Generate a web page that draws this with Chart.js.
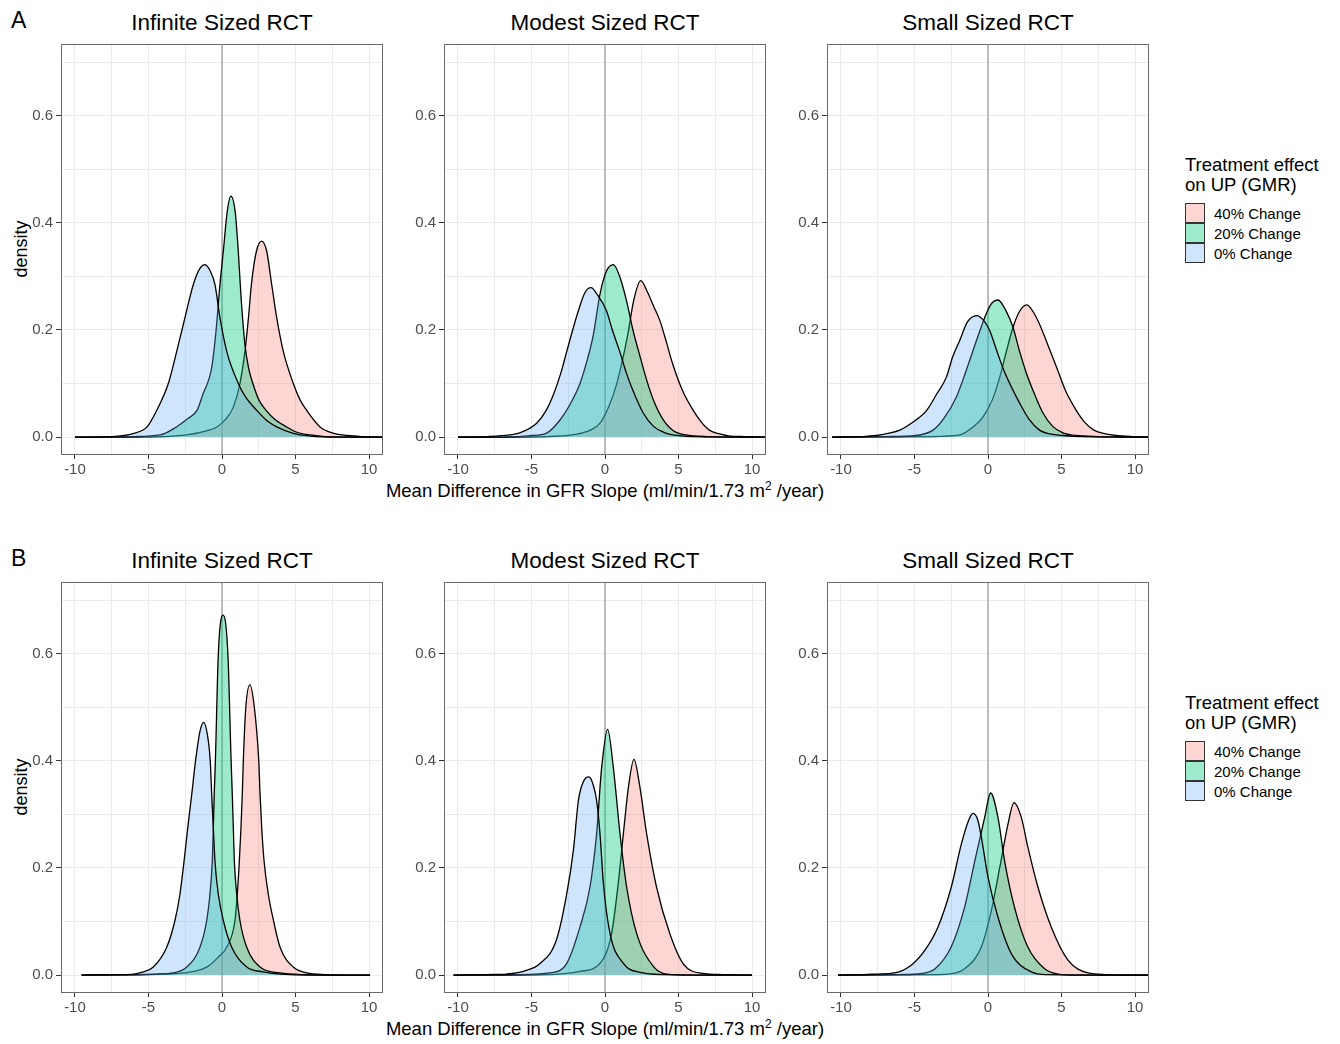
<!DOCTYPE html>
<html>
<head>
<meta charset="utf-8">
<script src="https://cdn.jsdelivr.net/npm/chart.js@4.4.0/dist/chart.umd.min.js"></script>
<style>
body { margin: 0; background: #fff; width: 1340px; height: 1044px; position: relative; overflow: hidden;
       font-family: "Liberation Sans", Arial, sans-serif; }
.t { position: absolute; white-space: nowrap; color: #000; }
canvas { position: absolute; }
.box { position: absolute; width: 18px; height: 18px; border: 1px solid #333; }
</style>
</head>
<body>
<script>
// labels
const panelTitles = ['Infinite Sized RCT', 'Modest Sized RCT', 'Small Sized RCT'];
const rowLabels = ['A', 'B'];
const groupLabels = ['40% Change', '20% Change', '0% Change'];
const legendTitle = ['Treatment effect', 'on UP (GMR)'];
const xTickLabels = [-10, -5, 0, 5, 10];
const yTickLabels = [0, 0.2, 0.4, 0.6];

// density curves, [x, density]
// row A
const aInf40 = [[-10,0],[-4,0.001],[-2.4,0.004],[-1,0.012],[-0.34,0.019],[0.3,0.035],[0.77,0.056],[1.22,0.1],[1.56,0.16],[1.8,0.223],[2.0,0.285],[2.34,0.347],[2.7,0.366],[3.04,0.347],[3.38,0.285],[3.72,0.223],[4.17,0.16],[4.85,0.1],[5.3,0.07],[5.76,0.05],[6.67,0.019],[7.6,0.007],[8.5,0.003],[9.5,0.001],[11,0]];
const aInf20 = [[-10,0],[-6,0.001],[-4.2,0.004],[-3.1,0.019],[-2.3,0.035],[-1.7,0.05],[-1.3,0.08],[-0.7,0.13],[-0.4,0.2],[-0.14,0.285],[0.1,0.35],[0.35,0.42],[0.6,0.45],[0.9,0.42],[1.1,0.35],[1.3,0.26],[1.55,0.175],[1.8,0.13],[2.1,0.1],[2.5,0.07],[3,0.05],[3.6,0.033],[4.4,0.019],[5,0.01],[6,0.004],[7,0.001],[11,0]];
const aInf0 = [[-10,0],[-7.5,0.001],[-6,0.007],[-5.1,0.019],[-4.44,0.05],[-3.65,0.1],[-3.08,0.16],[-2.52,0.223],[-1.95,0.285],[-1.5,0.315],[-1.15,0.322],[-0.8,0.31],[-0.48,0.285],[-0.14,0.223],[0.32,0.16],[1.11,0.1],[1.6,0.075],[2.36,0.05],[3,0.032],[3.72,0.019],[4.85,0.007],[6,0.002],[8,0],[11,0]];

const aMod40 = [[-10,0],[-4,0.001],[-2,0.005],[-1,0.013],[-0.34,0.026],[0.3,0.06],[0.8,0.1],[1.2,0.145],[1.56,0.193],[1.95,0.255],[2.43,0.292],[2.9,0.27],[3.3,0.245],[3.74,0.217],[4.2,0.175],[4.6,0.137],[5.3,0.085],[6.0,0.05],[6.5,0.03],[7.1,0.013],[7.8,0.006],[8.5,0.002],[9.5,0.001],[11,0]];
const aMod20 = [[-10,0],[-6,0.001],[-5,0.003],[-4,0.007],[-3.06,0.032],[-2.4,0.06],[-1.7,0.1],[-1.2,0.145],[-0.8,0.19],[-0.34,0.267],[0.1,0.31],[0.57,0.322],[1.0,0.3],[1.47,0.254],[1.9,0.2],[2.4,0.149],[2.85,0.105],[3.3,0.069],[3.9,0.035],[4.6,0.013],[5.5,0.004],[7,0.001],[11,0]];
const aMod0 = [[-10,0],[-8,0.001],[-6.5,0.004],[-5.8,0.008],[-4.65,0.026],[-4,0.05],[-3.5,0.08],[-3,0.12],[-2.6,0.16],[-2.2,0.2],[-1.81,0.236],[-1.36,0.27],[-0.95,0.279],[-0.5,0.265],[0.1,0.236],[0.5,0.2],[1.0,0.16],[1.45,0.12],[1.9,0.087],[2.6,0.045],[3.3,0.02],[4.0,0.009],[4.6,0.004],[6,0.001],[11,0]];

const aSmall40 = [[-10.6,0],[-4,0.001],[-1.93,0.004],[-1.2,0.015],[-0.34,0.038],[0.3,0.07],[0.8,0.112],[1.25,0.16],[1.7,0.205],[2.15,0.235],[2.63,0.247],[3.05,0.235],[3.5,0.211],[4.1,0.17],[4.67,0.13],[5.3,0.085],[6.0,0.05],[6.6,0.027],[7.2,0.013],[8,0.006],[8.7,0.003],[9.8,0.001],[11,0]];
const aSmall20 = [[-10.6,0],[-7,0.001],[-4.9,0.003],[-3.74,0.013],[-3,0.035],[-2.15,0.075],[-1.6,0.115],[-1.04,0.16],[-0.6,0.195],[-0.23,0.223],[0.2,0.248],[0.68,0.256],[1.2,0.237],[1.7,0.205],[2.15,0.16],[2.63,0.118],[3.2,0.078],[3.76,0.044],[4.4,0.02],[5.1,0.008],[6,0.003],[7.5,0.001],[11,0]];
const aSmall0 = [[-10.6,0],[-8.5,0.001],[-7.6,0.003],[-6.8,0.007],[-6,0.013],[-5,0.03],[-4.17,0.05],[-3.5,0.08],[-2.83,0.112],[-2.4,0.15],[-1.93,0.18],[-1.4,0.215],[-0.77,0.227],[-0.3,0.218],[0.1,0.2],[0.55,0.165],[1.0,0.13],[1.6,0.093],[2.16,0.063],[2.8,0.033],[3.5,0.013],[4.2,0.006],[5.1,0.003],[6.5,0.001],[11,0]];

// row B
const bInf40 = [[-9.55,0],[-5,0.001],[-2.6,0.004],[-1.04,0.015],[-0.2,0.035],[0.32,0.052],[0.88,0.102],[1.04,0.151],[1.18,0.213],[1.29,0.275],[1.38,0.337],[1.45,0.4],[1.62,0.5],[1.9,0.542],[2.2,0.5],[2.5,0.4],[2.59,0.337],[2.7,0.275],[2.86,0.213],[3.15,0.151],[3.5,0.102],[3.95,0.052],[4.85,0.015],[5.76,0.004],[7,0.001],[10.07,0]];
const bInf20 = [[-9.55,0],[-6,0.001],[-4.5,0.002],[-3.3,0.004],[-2.4,0.015],[-1.5,0.052],[-1.04,0.102],[-0.82,0.151],[-0.66,0.213],[-0.59,0.275],[-0.53,0.337],[-0.45,0.4],[-0.25,0.6],[0.07,0.672],[0.4,0.6],[0.62,0.4],[0.7,0.337],[0.77,0.275],[0.84,0.213],[1.0,0.151],[1.22,0.102],[1.68,0.052],[2.59,0.015],[3.95,0.004],[5.5,0.001],[10.07,0]];
const bInf0 = [[-9.55,0],[-7,0.001],[-6,0.002],[-5.35,0.006],[-4.67,0.015],[-3.76,0.052],[-3.2,0.102],[-2.86,0.151],[-2.58,0.213],[-2.33,0.275],[-2.06,0.337],[-1.8,0.4],[-1.5,0.455],[-1.25,0.472],[-1.0,0.45],[-0.8,0.4],[-0.7,0.337],[-0.59,0.275],[-0.48,0.213],[-0.25,0.151],[0.09,0.102],[0.66,0.052],[1.68,0.015],[2.8,0.006],[4,0.002],[6,0],[10.07,0]];

const bMod40 = [[-10.3,0],[-4,0.001],[-1.7,0.007],[-0.34,0.022],[0.45,0.078],[0.9,0.171],[1.25,0.264],[1.59,0.35],[1.97,0.403],[2.38,0.35],[2.83,0.264],[3.5,0.165],[4.4,0.078],[5.3,0.022],[6.7,0.003],[8,0.001],[10,0]];
const bMod20 = [[-10.3,0],[-6,0.001],[-3.5,0.005],[-2.6,0.022],[-1.7,0.09],[-1.02,0.165],[-0.57,0.264],[-0.23,0.387],[0.18,0.459],[0.57,0.387],[1.02,0.264],[1.47,0.165],[2.15,0.078],[3.3,0.016],[4.2,0.002],[6,0],[10,0]];
const bMod0 = [[-10.3,0],[-8,0.001],[-6.7,0.002],[-5.55,0.007],[-4.4,0.022],[-3.3,0.066],[-2.6,0.152],[-2.15,0.233],[-1.81,0.326],[-1.4,0.365],[-1.09,0.37],[-0.8,0.355],[-0.57,0.326],[-0.34,0.264],[-0.11,0.171],[0.34,0.078],[1.25,0.022],[2.4,0.005],[4,0.001],[10,0]];

const bSmall40 = [[-10.2,0],[-4,0.001],[-2.7,0.002],[-1.59,0.012],[-0.45,0.053],[0.23,0.121],[0.8,0.201],[1.36,0.282],[1.77,0.322],[2.27,0.294],[2.72,0.238],[3.4,0.164],[4.3,0.09],[5.44,0.028],[6.8,0.004],[8,0.001],[11,0]];
const bSmall20 = [[-10.2,0],[-6,0.001],[-4.5,0.003],[-3.6,0.012],[-2.5,0.053],[-1.59,0.127],[-0.9,0.213],[-0.23,0.294],[0.18,0.34],[0.68,0.294],[1.13,0.213],[1.8,0.127],[2.7,0.053],[3.85,0.012],[4.76,0.002],[6,0],[11,0]];
const bSmall0 = [[-10.2,0],[-8.5,0.001],[-7.5,0.002],[-6.35,0.004],[-5.2,0.019],[-4.3,0.046],[-3.4,0.09],[-2.5,0.164],[-1.81,0.245],[-1.3,0.29],[-1.02,0.302],[-0.7,0.29],[-0.45,0.257],[0,0.183],[0.68,0.108],[1.59,0.04],[2.95,0.006],[4,0.001],[11,0]];

const rows = [
  [[aInf40, aInf20, aInf0], [aMod40, aMod20, aMod0], [aSmall40, aSmall20, aSmall0]],
  [[bInf40, bInf20, bInf0], [bMod40, bMod20, bMod0], [bSmall40, bSmall20, bSmall0]]
];

const fills = ['rgba(248,118,109,0.3)', 'rgba(0,200,120,0.38)', 'rgba(97,170,245,0.3)'];

// layout
const colLeft = [61, 444, 827];
const rowTop = [42, 580];
const plotW = 322, plotH = 413;
const padL = 50, padT = 10, padR = 10, padB = 30;

function addText(txt, x, y, size, opts) {
  const d = document.createElement('div');
  d.className = 't';
  d.innerHTML = txt;
  d.style.fontSize = size + 'px';
  d.style.lineHeight = size + 'px';
  d.style.top = (y - size / 2) + 'px';
  d.style.left = x + 'px';
  if (opts && opts.center) d.style.transform = 'translateX(-50%)';
  if (opts && opts.rotate) {
    d.style.transform = 'translate(-50%, 0) rotate(-90deg)';
  }
  document.body.appendChild(d);
  return d;
}

const isMajorY = v => Math.round(v * 10) % 2 === 0;

const framePlugin = {
  id: 'frame',
  beforeDatasetsDraw(chart) {
    const c = chart.ctx, a = chart.chartArea;
    const px = chart.scales.x.getPixelForValue(0);
    c.save();
    c.strokeStyle = '#a8a8a8';
    c.lineWidth = 1.5;
    c.beginPath();
    c.moveTo(px, a.top);
    c.lineTo(px, a.bottom);
    c.stroke();
    c.restore();
  },
  afterDraw(chart) {
    const c = chart.ctx, a = chart.chartArea;
    c.save();
    c.strokeStyle = '#6b6b6b';
    c.lineWidth = 1;
    c.strokeRect(a.left + 0.5, a.top + 0.5, a.right - a.left - 1, a.bottom - a.top - 1);
    c.restore();
  }
};

Chart.defaults.font.family = '"Liberation Sans", Arial, sans-serif';

rows.forEach((row, r) => {
  addText(rowLabels[r], 11, rowTop[r] - 22, 23);
  addText('density', 21, rowTop[r] + plotH / 2, 18, { rotate: true });
  addText('Mean Difference in GFR Slope (ml/min/1.73 m<sup style="font-size:12px;vertical-align:7px;line-height:0">2</sup> /year)',
          605, rowTop[r] + 449, 18.5, { center: true });

  row.forEach((curves, p) => {
    addText(panelTitles[p], colLeft[p] + plotW / 2, rowTop[r] - 19, 22.5, { center: true });

    const cv = document.createElement('canvas');
    cv.width = padL + plotW + padR;
    cv.height = padT + plotH + padB;
    cv.style.left = (colLeft[p] - padL) + 'px';
    cv.style.top = (rowTop[r] - padT) + 'px';
    document.body.appendChild(cv);

    new Chart(cv, {
      type: 'line',
      data: {
        datasets: curves.map((pts, g) => ({
          label: groupLabels[g],
          data: pts.map(q => ({ x: q[0], y: q[1] })),
          backgroundColor: fills[g],
          borderColor: '#000',
          borderWidth: 1.3,
          fill: 'origin',
          pointRadius: 0,
          cubicInterpolationMode: 'monotone',
          order: 2 - g
        }))
      },
      options: {
        responsive: false,
        animation: false,
        layout: { padding: { left: 0, top: padT, right: padR, bottom: 0 } },
        plugins: { legend: { display: false }, tooltip: { enabled: false } },
        scales: {
          x: {
            type: 'linear',
            min: -10.95, max: 10.95,
            afterFit: s => { s.height = padB; },
            border: { display: false },
            grid: {
              color: '#ebebeb',
              lineWidth: 1,
              tickLength: 4,
              tickColor: ctx => xTickLabels.includes(ctx.tick.value) ? '#333' : 'rgba(0,0,0,0)'
            },
            ticks: {
              stepSize: 2.5,
              includeBounds: false,
              autoSkip: false,
              maxRotation: 0,
              padding: 2,
              color: '#4d4d4d',
              font: { size: 15 },
              callback: v => xTickLabels.includes(v) ? String(v) : ''
            }
          },
          y: {
            min: -0.0334, max: 0.734,
            afterFit: s => { s.width = padL; },
            border: { display: false },
            grid: {
              color: '#ebebeb',
              lineWidth: 1,
              tickLength: 5,
              tickColor: ctx => isMajorY(ctx.tick.value) ? '#333' : 'rgba(0,0,0,0)'
            },
            ticks: {
              stepSize: 0.1,
              includeBounds: false,
              padding: 3,
              color: '#4d4d4d',
              font: { size: 15 },
              callback: v => yTickLabels.some(t => Math.abs(t - v) < 1e-6) ? v.toFixed(1) : ''
            }
          }
        }
      },
      plugins: [framePlugin]
    });
  });

  // legend
  const lt = rowTop[r] + 123;
  addText(legendTitle[0], 1185, lt, 18.5);
  addText(legendTitle[1], 1185, lt + 20, 18.5);
  groupLabels.forEach((lab, g) => {
    const b = document.createElement('div');
    b.className = 'box';
    b.style.left = '1185px';
    b.style.top = (rowTop[r] + 161 + g * 20) + 'px';
    b.style.background = fills[g];
    document.body.appendChild(b);
    addText(lab, 1214, rowTop[r] + 171 + g * 20, 15);
  });
});
</script>
</body>
</html>
